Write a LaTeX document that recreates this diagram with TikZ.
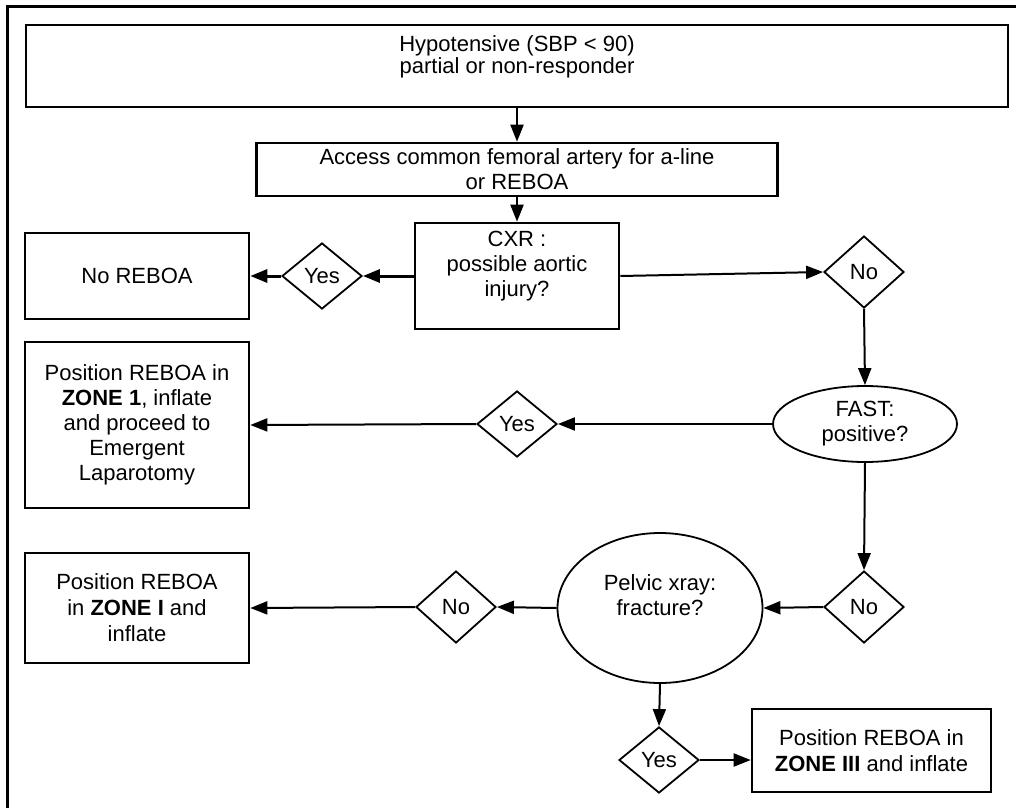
\documentclass[tikz,border=0pt]{standalone}
\usepackage{fontspec}
\setmainfont{Liberation Sans}
\usetikzlibrary{shapes.geometric,arrows.meta}
\begin{document}
\begin{tikzpicture}[x=1pt,y=-1pt,
  txt/.style={font=\fontsize{22}{25}\selectfont},
  box/.style={txt, draw, line width=2.6pt, rectangle, inner sep=0pt, align=center},
  dia/.style={txt, draw, line width=1.8pt, diamond, inner sep=0pt, minimum width=80pt},
  yesd/.style={dia, minimum height=66pt},
  nod/.style={dia, minimum height=72pt},
  ell/.style={txt, draw, line width=1.8pt, ellipse, inner sep=0pt, align=center},
  arr/.style={line width=2pt, -{Triangle[length=17pt,width=13pt]}},
  tarr/.style={line width=3pt, -{Triangle[length=17pt,width=13pt]}}
]
\useasboundingbox (0,0) rectangle (1016,808);
\coordinate (fa) at (7,808);
\coordinate (fb) at (7,7);
\coordinate (fc) at (1016,7);
\draw[line width=3pt] (fa) -- (fb) -- (fc);

\node[box, font=\fontsize{22}{22}\selectfont, minimum width=982pt, minimum height=82pt] (top) at (517,66)
  {Hypotensive (SBP < 90)\\partial or non-responder\\\mbox{}};
\node[box, minimum width=521pt, minimum height=53pt] (acc) at (517,169.5)
  {Access common femoral artery for a-line\\or REBOA};
\node[box, minimum width=204pt, minimum height=106pt] (cxr) at (517,276)
  {CXR :\\possible aortic\\injury?\\\mbox{}};
\node[box, minimum width=224pt, minimum height=86pt] (noreboa) at (137,276) {No REBOA};
\node[yesd] (yes1) at (322,276) {\makebox[0pt]{Yes}};
\node[nod] (no1) at (864,272) {\makebox[0pt]{No}};
\node[ell, minimum width=184pt, minimum height=76pt] (fast) at (865,424) {FAST:\\positive?};
\node[yesd] (yes2) at (517,424) {\makebox[0pt]{Yes}};
\node[box, minimum width=224pt, minimum height=166pt] (zone1) at (137,425)
  {Position REBOA in\\\textbf{ZONE 1}, inflate\\and proceed to\\Emergent\\Laparotomy};
\node[nod] (no2) at (864,607) {\makebox[0pt]{No}};
\node[ell, minimum width=205pt, minimum height=150pt] (pelvic) at (660,608)
  {Pelvic xray:\\fracture?\\\mbox{}};
\node[nod] (no3) at (456,607) {\makebox[0pt]{No}};
\node[box, font=\fontsize{22}{26}\selectfont, minimum width=224pt, minimum height=110pt] (zoneI) at (137,608)
  {Position REBOA\\in \textbf{ZONE I} and\\inflate};
\node[yesd] (yes3) at (659,760) {\makebox[0pt]{Yes}};
\node[box, font=\fontsize{22}{26}\selectfont, minimum width=239pt, minimum height=83pt] (zone3) at (871.5,750.5)
  {Position REBOA in\\\textbf{ZONE III} and inflate};

\draw[arr] (top.south) -- (acc.north);
\draw[arr] (acc.south) -- (cxr.north);
\draw[tarr] (cxr.west) -- (yes1.east);
\draw[tarr] (yes1.west) -- (noreboa.east);
\draw[arr] (cxr.east) -- (no1.west);
\draw[arr] (no1.south) -- (fast.north);
\draw[arr] (fast.west) -- (yes2.east);
\draw[arr] (yes2.west) -- (zone1.east);
\draw[arr] (fast.south) -- (no2.north);
\draw[arr] (no2.west) -- (pelvic.east);
\draw[arr] (pelvic.west) -- (no3.east);
\draw[arr] (no3.west) -- (zoneI.east);
\draw[arr] (pelvic.south) -- (yes3.north);
\draw[arr] (yes3.east) -- (yes3.east -| zone3.west);
\end{tikzpicture}
\end{document}
